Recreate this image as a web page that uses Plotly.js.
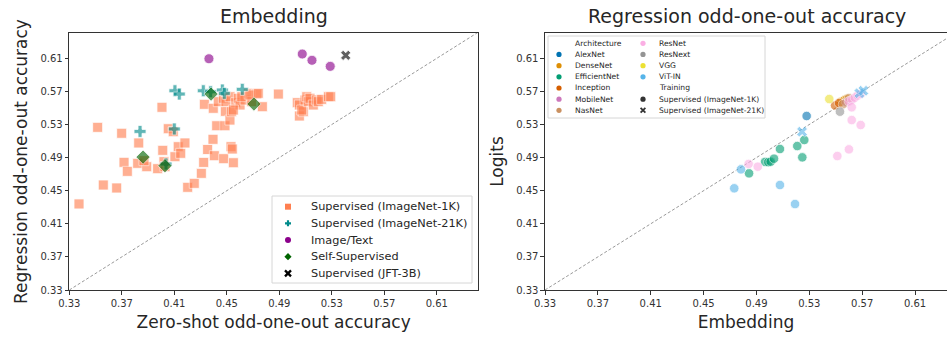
<!DOCTYPE html>
<html>
<head>
<meta charset="utf-8">
<script src="https://cdn.plot.ly/plotly-3.0.1.min.js"></script>
<style>html,body{margin:0;padding:0;background:#fff;}#chart{width:947px;height:337px;}</style>
</head>
<body>
<div id="chart"></div>
<script>
// ---------- Left panel data (Embedding: zero-shot vs regression) ----------
const sup1kX = [0.3374,0.3516,0.3559,0.3661,0.3699,0.3717,0.3742,0.3829,0.3821,0.3890,0.3869,0.3973,0.4006,0.4012,0.4021,0.4029,0.4054,0.4092,0.4105,0.4130,0.4149,0.4181,0.4202,0.4252,0.4306,0.4324,0.4329,0.4354,0.4395,0.4405,0.4397,0.4423,0.4476,0.4486,0.4489,0.4524,0.4532,0.4542,0.4550,0.4435,0.4474,0.4494,0.4525,0.4537,0.4568,0.4588,0.4601,0.4639,0.4664,0.4690,0.4728,0.4771,0.4550,0.4614,0.4677,0.4740,0.4893,0.5037,0.5053,0.5053,0.5083,0.5071,0.5096,0.5109,0.5121,0.5134,0.5159,0.5185,0.5197,0.5223,0.5274,0.5292];
const sup1kY = [0.4340,0.5266,0.4569,0.4533,0.5194,0.4843,0.4734,0.5077,0.4831,0.4790,0.4863,0.4766,0.5508,0.4988,0.4851,0.4790,0.5249,0.5213,0.4911,0.5032,0.4952,0.5077,0.4541,0.4589,0.4710,0.4842,0.5544,0.4998,0.5121,0.4923,0.5496,0.5285,0.4887,0.5285,0.5459,0.5354,0.5032,0.5004,0.4838,0.5576,0.5617,0.5576,0.5636,0.5455,0.5564,0.5617,0.5536,0.5596,0.5677,0.5576,0.5669,0.5515,0.5475,0.5636,0.5657,0.5677,0.5668,0.5564,0.5536,0.5403,0.5455,0.5475,0.5596,0.5636,0.5576,0.5617,0.5536,0.5596,0.5576,0.5604,0.5636,0.5636];
const sup21kX = [0.3839,0.4105,0.4138,0.4100,0.4321,0.4377,0.4466,0.4481,0.4618,0.4037];
const sup21kY = [0.5217,0.5708,0.5668,0.5246,0.5708,0.5696,0.5717,0.5677,0.5725,0.4823];
const imgTextX = [0.4364,0.5075,0.5149,0.5288];
const imgTextY = [0.6095,0.6152,0.6076,0.6003];
const selfSupX = [0.3862,0.4029,0.4380,0.4707];
const selfSupY = [0.4906,0.4802,0.5668,0.5548];
const jftX = [0.5406];
const jftY = [0.6136];
const leftGroups = ["Supervised (ImageNet-1K)","Supervised (ImageNet-21K)","Image/Text","Self-Supervised","Supervised (JFT-3B)"];

// ---------- Right panel data (Embedding vs Logits) ----------
const archNames = ["AlexNet","DenseNet","EfficientNet","Inception","MobileNet","NasNet","ResNet","ResNext","VGG","ViT-IN"];
const trainingNames = ["Supervised (ImageNet-1K)","Supervised (ImageNet-21K)"];
const alexX = [0.5280];                 const alexY = [0.5403];
const denseX = [0.5540,0.5565,0.5585];   const denseY = [0.5575,0.5595,0.5610];
const effX = [0.4844,0.4965,0.4990,0.5008,0.5033,0.5078,0.5209,0.5247,0.5262];
const effY = [0.4710,0.4848,0.4845,0.4851,0.4887,0.5004,0.5040,0.4903,0.5113];
const incX = [0.5495,0.5525];            const incY = [0.5530,0.5560];
const mobX = [0.5580,0.5610];            const mobY = [0.5570,0.5590];
const nasX = [0.5555,0.5600];            const nasY = [0.5545,0.5620];
const resX = [0.5600,0.5625,0.5645,0.5665,0.5690,0.5621,0.5621,0.5689,0.5512,0.5600,0.4841,0.4910];
const resY = [0.5580,0.5600,0.5625,0.5650,0.5670,0.5508,0.5354,0.5294,0.4919,0.5000,0.4823,0.4790];
const resnextX = [0.5532];               const resnextY = [0.5455];
const vggX = [0.5451];                   const vggY = [0.5608];
const vit1kX = [0.4783,0.4732,0.5078,0.5192];  const vit1kY = [0.4758,0.4529,0.4569,0.4339];
const vit21kX = [0.5245,0.5679,0.5709];        const vit21kY = [0.5213,0.5678,0.5708];
const tickVals = [0.33,0.37,0.41,0.45,0.49,0.53,0.57,0.61];

// ---------- styling ----------
const FW = 947, FH = 337;
const FONT = "DejaVu Sans";
const leftColors = ["#FF7F50","#008B8B","#8B008B","#006400","#000000"];
const leftSymbols = ["square","cross","circle","diamond","x"];
const leftSizes = [10,10,10,11,9];
const archColors = ["#0173B2","#DE8F05","#029E73","#D55E00","#CC78BC","#CA9161","#FBAFE4","#949494","#ECE133","#56B4E9"];

const leftData = [[sup1kX,sup1kY],[sup21kX,sup21kY],[imgTextX,imgTextY],[selfSupX,selfSupY],[jftX,jftY]];
const traces = [];
leftData.forEach((d,i)=>{
  traces.push({type:"scatter",mode:"markers",x:d[0],y:d[1],xaxis:"x",yaxis:"y",name:leftGroups[i],
    marker:{symbol:leftSymbols[i],size:leftSizes[i],color:leftColors[i],opacity:0.62,line:{color:"#ffffff",width:0.8}}});
});
const archData = [[alexX,alexY],[denseX,denseY],[effX,effY],[incX,incY],[mobX,mobY],[nasX,nasY],[resX,resY],[resnextX,resnextY],[vggX,vggY],[vit1kX,vit1kY]];
archData.forEach((d,i)=>{
  traces.push({type:"scatter",mode:"markers",x:d[0],y:d[1],xaxis:"x2",yaxis:"y2",name:archNames[i],
    marker:{symbol:"circle",size:9.5,color:archColors[i],opacity:0.6,line:{color:"#ffffff",width:0.8}}});
});
traces.push({type:"scatter",mode:"markers",x:vit21kX,y:vit21kY,xaxis:"x2",yaxis:"y2",name:"ViT-IN (ImageNet-21K)",
  marker:{symbol:"x",size:9.5,color:archColors[9],opacity:0.6,line:{color:"#ffffff",width:0.8}}});

function axisCommon(extra){
  return Object.assign({
    showgrid:false, zeroline:false, showline:true, linecolor:"#333", linewidth:1.1,
    ticks:"outside", ticklen:3.5, tickwidth:1, tickcolor:"#333",
    tickvals:tickVals, tickformat:".2f", tickfont:{family:FONT,size:10,color:"#333"}
  }, extra);
}
const TITLE_FONT = {family:FONT,size:17,color:"#262626"};
const yDom = [(FH-290)/FH, (FH-33)/FH];
const layout = {
  width:FW, height:FH, margin:{l:0,r:0,t:0,b:0}, paper_bgcolor:"#fff", plot_bgcolor:"#fff",
  font:{family:FONT,color:"#262626"}, showlegend:false,
  xaxis: axisCommon({domain:[69.3/FW,478/FW], range:[0.33,0.6414], mirror:true, anchor:"y",
    title:{text:"Zero-shot odd-one-out accuracy", font:TITLE_FONT, standoff:8}}),
  yaxis: axisCommon({domain:yDom, range:[0.33,0.6406], mirror:true, anchor:"x",
    title:{text:"Regression odd-one-out accuracy", font:TITLE_FONT, standoff:8}}),
  xaxis2: axisCommon({domain:[545/FW,1], range:[0.33,0.6342], mirror:true, anchor:"y2",
    title:{text:"Embedding", font:TITLE_FONT, standoff:8}}),
  yaxis2: axisCommon({domain:yDom, range:[0.33,0.6406], anchor:"x2",
    title:{text:"Logits", font:TITLE_FONT, standoff:8}}),
  shapes:[
    {type:"line",xref:"x",yref:"y",x0:0.33,y0:0.33,x1:0.6414,y1:0.6414,line:{color:"#999",width:1,dash:"3px,2px"},layer:"below"},
    {type:"line",xref:"x2",yref:"y2",x0:0.33,y0:0.33,x1:0.6342,y1:0.6342,line:{color:"#999",width:1,dash:"3px,2px"},layer:"below"}
  ],
  annotations:[
    {text:"Embedding",xref:"paper",yref:"paper",x:273.6/FW,y:(FH-16)/FH,xanchor:"center",yanchor:"middle",showarrow:false,font:{family:FONT,size:19,color:"#262626"}},
    {text:"Regression odd-one-out accuracy",xref:"paper",yref:"paper",x:747/FW,y:(FH-16)/FH,xanchor:"center",yanchor:"middle",showarrow:false,font:{family:FONT,size:19,color:"#262626"}}
  ]
};

// ---------- legend helpers (pixel -> paper) ----------
const px2x = p => p/FW, py2y = p => (FH-p)/FH;
function pathFrom(pts){ return "M " + pts.map(p=>px2x(p[0]).toFixed(5)+","+py2y(p[1]).toFixed(5)).join(" L ") + " Z"; }
function glyph(kind, mx, cy, color, r){
  const S = layout.shapes;
  const base = {xref:"paper",yref:"paper",layer:"above"};
  if(kind==="circle"){
    S.push(Object.assign({type:"circle",x0:px2x(mx-r),x1:px2x(mx+r),y0:py2y(cy+r),y1:py2y(cy-r),fillcolor:color,line:{width:0}},base));
  } else if(kind==="square"){
    S.push(Object.assign({type:"rect",x0:px2x(mx-r),x1:px2x(mx+r),y0:py2y(cy+r),y1:py2y(cy-r),fillcolor:color,line:{width:0}},base));
  } else if(kind==="diamond"){
    S.push(Object.assign({type:"path",path:pathFrom([[mx,cy-r*1.2],[mx+r*1.2,cy],[mx,cy+r*1.2],[mx-r*1.2,cy]]),fillcolor:color,line:{width:0}},base));
  } else if(kind==="cross"){
    const a = r*0.36;
    S.push(Object.assign({type:"path",path:pathFrom([[mx-a,cy-r],[mx+a,cy-r],[mx+a,cy-a],[mx+r,cy-a],[mx+r,cy+a],[mx+a,cy+a],[mx+a,cy+r],[mx-a,cy+r],[mx-a,cy+a],[mx-r,cy+a],[mx-r,cy-a],[mx-a,cy-a]]),fillcolor:color,line:{width:0}},base));
  } else if(kind==="x"){
    const w = r*0.75;
    S.push(Object.assign({type:"line",x0:px2x(mx-r),x1:px2x(mx+r),y0:py2y(cy-r),y1:py2y(cy+r),line:{color:color,width:w}},base));
    S.push(Object.assign({type:"line",x0:px2x(mx-r),x1:px2x(mx+r),y0:py2y(cy+r),y1:py2y(cy-r),line:{color:color,width:w}},base));
  }
}
function legendText(t, x, y, size){
  layout.annotations.push({text:t,xref:"paper",yref:"paper",x:px2x(x),y:py2y(y),xanchor:"left",yanchor:"middle",
    showarrow:false,font:{family:FONT,size:size,color:"#262626"}});
}

// ---------- left legend ----------
layout.shapes.push({type:"rect",xref:"paper",yref:"paper",x0:px2x(272),x1:px2x(472),y0:py2y(283),y1:py2y(196),
  line:{color:"#d6d6d6",width:1},fillcolor:"rgba(255,255,255,0.85)",layer:"above"});
leftGroups.forEach((g,i)=>{
  const cy = 206.7 + i*16.67;
  glyph(leftSymbols[i], 288, cy, leftColors[i], 3.0);
  legendText(g, 309, cy, 11.3);
});

// ---------- right legend (two columns) ----------
layout.shapes.push({type:"rect",xref:"paper",yref:"paper",x0:px2x(548),x1:px2x(765),y0:py2y(118),y1:py2y(36),
  line:{color:"#d6d6d6",width:1},fillcolor:"rgba(255,255,255,0.85)",layer:"above"});
const rowY = i => 43.3 + i*11.17;
const col1 = [{t:"Architecture"}].concat(archNames.slice(0,6).map((a,i)=>({t:a,c:archColors[i],m:"circle"})));
const col2 = archNames.slice(6).map((a,i)=>({t:a,c:archColors[i+6],m:"circle"}))
  .concat([{t:"Training"},{t:trainingNames[0],c:"#333",m:"circle"},{t:trainingNames[1],c:"#333",m:"x"}]);
[[col1,559,573],[col2,643,657]].forEach(([col,mx,tx])=>{
  col.forEach((e,i)=>{
    const cy = rowY(i);
    legendText(e.t, tx, cy, 7.6);
    if(e.m) glyph(e.m, mx, cy, e.c, e.m==="x"?2.4:2.6);
  });
});

Plotly.newPlot("chart", traces, layout, {displayModeBar:false, staticPlot:true});
</script>
</body>
</html>
